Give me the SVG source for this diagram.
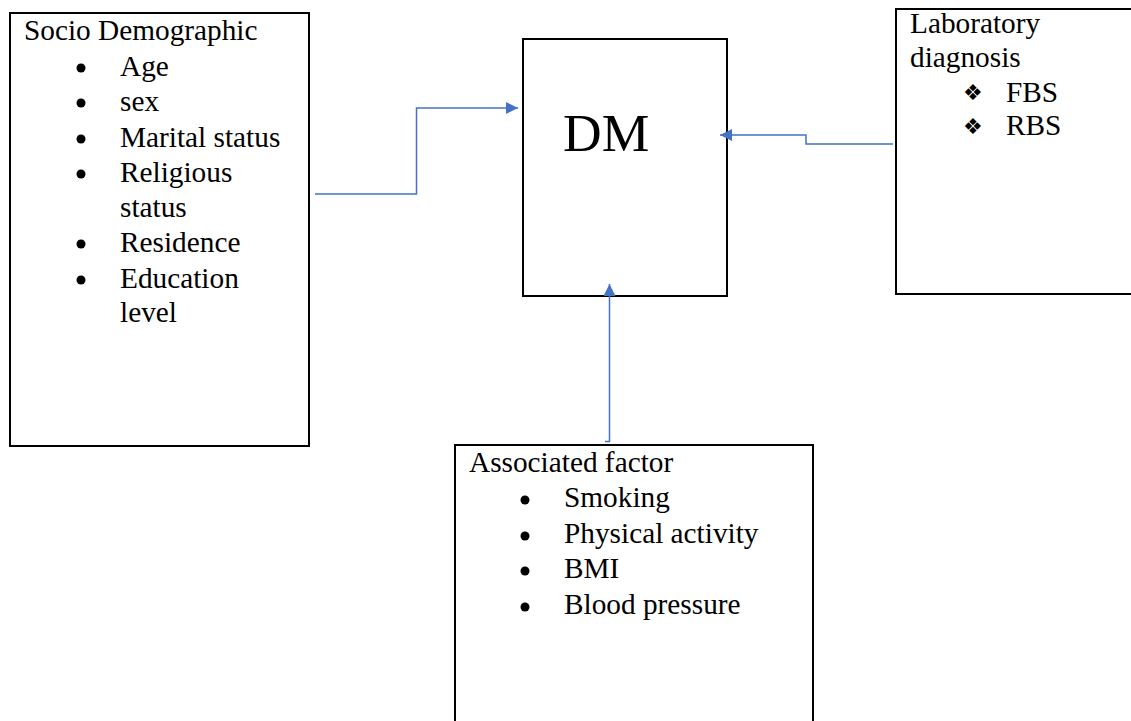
<svg xmlns="http://www.w3.org/2000/svg" width="1131" height="721" viewBox="0 0 1131 721">
<style>
.box{fill:#fff;stroke:#000;stroke-width:2}
.t{font-family:"Liberation Serif","Times New Roman",serif;font-size:29.3px;fill:#000}
.dm{font-family:"Liberation Serif","Times New Roman",serif;font-size:53.5px;fill:#000}
.dia{font-family:"DejaVu Sans",sans-serif;font-size:22px;fill:#000}
.c{fill:none;stroke:#4472C4;stroke-width:1.5}
</style>
<defs>
<marker id="ah" viewBox="0 0 10 10" refX="10" refY="5" markerWidth="12" markerHeight="12" markerUnits="userSpaceOnUse" orient="auto">
<path d="M0,0 L10,5 L0,10 z" fill="#4472C4"/>
</marker>
</defs>
<rect width="1131" height="721" fill="#fff"/>
<g id="socio">
<rect class="box" x="10" y="13" width="299" height="433"/>
<text class="t" x="24" y="40">Socio Demographic</text>
<g fill="#000">
<circle cx="81" cy="68" r="4.5"/><circle cx="81" cy="103" r="4.5"/><circle cx="81" cy="139" r="4.5"/><circle cx="81" cy="174" r="4.5"/><circle cx="81" cy="244" r="4.5"/><circle cx="81" cy="280" r="4.5"/>
</g>
<text class="t" x="120" y="76">Age</text>
<text class="t" x="120" y="111">sex</text>
<text class="t" x="120" y="147">Marital status</text>
<text class="t" x="120" y="182">Religious</text>
<text class="t" x="120" y="217">status</text>
<text class="t" x="120" y="252">Residence</text>
<text class="t" x="120" y="288">Education</text>
<text class="t" x="120" y="322">level</text>
</g>
<g id="dm">
<rect class="box" x="523" y="39" width="204" height="257"/>
<text class="dm" x="563" y="151">DM</text>
</g>
<g id="lab">
<rect class="box" x="896" y="9" width="240" height="285"/>
<text class="t" x="910" y="33">Laboratory</text>
<text class="t" x="910" y="67">diagnosis</text>
<text class="dia" x="963" y="100">❖</text>
<text class="dia" x="963" y="134">❖</text>
<text class="t" x="1006" y="102">FBS</text>
<text class="t" x="1006" y="135">RBS</text>
</g>
<g id="assoc">
<rect class="box" x="455" y="445" width="358" height="290"/>
<text class="t" x="469" y="472">Associated factor</text>
<g fill="#000">
<circle cx="525" cy="500" r="4.5"/><circle cx="525" cy="536" r="4.5"/><circle cx="525" cy="571" r="4.5"/><circle cx="525" cy="607" r="4.5"/>
</g>
<text class="t" x="564" y="507">Smoking</text>
<text class="t" x="564" y="543">Physical activity</text>
<text class="t" x="564" y="578">BMI</text>
<text class="t" x="564" y="614">Blood pressure</text>
</g>
<g id="connectors">
<path class="c" d="M315,194 H416.5 V108 H518" marker-end="url(#ah)"/>
<path class="c" d="M893,144 H806 V135 H720" marker-end="url(#ah)"/>
<path class="c" d="M605,441.5 H609.5 V284" marker-end="url(#ah)"/>
</g>
</svg>
